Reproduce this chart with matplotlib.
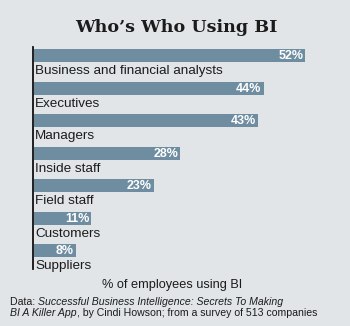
import matplotlib
matplotlib.use("Agg")
import matplotlib.pyplot as plt

categories = ["Business and financial analysts", "Executives", "Managers",
              "Inside staff", "Field staff", "Customers", "Suppliers"]
values = [52, 44, 43, 28, 23, 11, 8]

BG = "#e2e5e8"
BAR = "#6f8da1"
INK = "#1b1b1b"
W, H = 350, 326

fig = plt.figure(figsize=(W / 100, H / 100), dpi=100, facecolor=BG)

# axes placed in pixel terms: left spine at x=33, from y=47 to y=269
left, right, top, bottom = 33, 340, 47, 269
ax = fig.add_axes([left / W, 1 - bottom / H, (right - left) / W, (bottom - top) / H])
ax.set_facecolor(BG)
px_per_pct = 5.22
ax.set_xlim(-1 / px_per_pct, (right - left - 1) / px_per_pct)
step = 32.5
first = 55.5
ax.set_ylim((bottom - first) / step, (top - first) / step)

ypos = list(range(len(values)))
ax.barh(ypos, values, height=13 / step, color=BAR, left=0)

for y, v, name in zip(ypos, values, categories):
    ax.text(v - 0.4, y + 0.02, f"{v}%", ha="right", va="center", color="white",
            fontsize=9, fontweight="bold", family="Liberation Sans")
    ax.text(0.25, y + 0.48, name, ha="left", va="center", color=INK,
            fontsize=9.7, family="Liberation Sans")

for s in ["top", "right", "bottom"]:
    ax.spines[s].set_visible(False)
ax.spines["left"].set_color("#111111")
ax.spines["left"].set_linewidth(1.3)
ax.set_xticks([])
ax.set_yticks([])

fig.text(176 / W, 1 - 27 / H, "Who\u2019s Who Using BI", ha="center", va="center",
         fontsize=12.6, fontweight="bold", family="DejaVu Serif", color=INK)

fig.text(172 / W, 1 - 285 / H, "% of employees using BI", ha="center", va="center",
         fontsize=9.2, family="Liberation Sans", color=INK)

# source note with italic book title, laid out piece by piece
note_ax = fig.add_axes([0, 0, 1, 1], facecolor="none")
note_ax.set_axis_off()
src_kw = dict(fontsize=7.6, family="Liberation Sans", color=INK)
lines = [
    [("Data: ", "normal"), ("Successful Business Intelligence: Secrets To Making", "italic")],
    [("BI A Killer App", "italic"), (", by Cindi Howson; from a survey of 513 companies", "normal")],
]
line_y = [302, 313]
for parts, yline in zip(lines, line_y):
    prev = None
    for txt, style in parts:
        if prev is None:
            prev = note_ax.text(10 / W, 1 - yline / H, txt, ha="left", va="center",
                                style=style, transform=note_ax.transAxes, **src_kw)
        else:
            prev = note_ax.annotate(txt, xy=(1, 0), xycoords=prev, ha="left",
                                    va="bottom", style=style, **src_kw)

fig.savefig("out.png", dpi=100, facecolor=BG)
